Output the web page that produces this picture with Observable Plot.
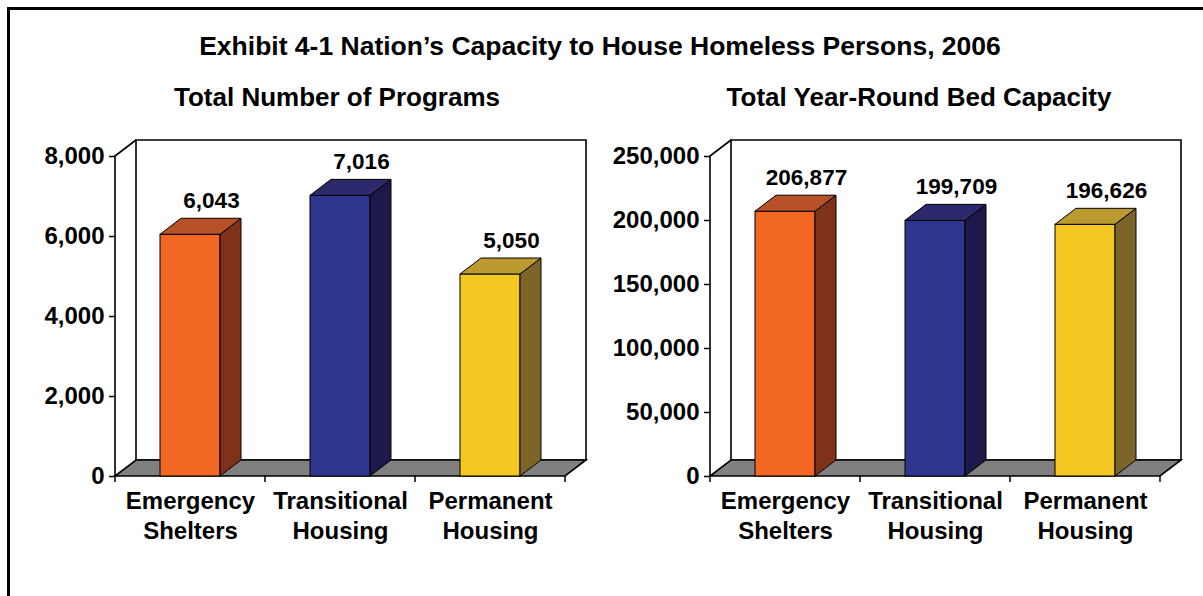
<!DOCTYPE html>
<html>
<head>
<meta charset="utf-8">
<script src="https://cdn.jsdelivr.net/npm/d3@7"></script>
<script src="https://cdn.jsdelivr.net/npm/@observablehq/plot@0.6"></script>
<style>
  html, body { margin: 0; padding: 0; background: #fff; }
  #wrap { position: relative; width: 1203px; height: 596px; overflow: hidden;
          font-family: "Liberation Sans", Arial, sans-serif; font-weight: bold; color: #000; }
  #frame { position: absolute; left: 7px; top: 7px; width: 1300px; height: 700px;
           border-top: 3px solid #000; border-left: 3px solid #000; }
  .t { position: absolute; white-space: nowrap; transform: translateX(-50%); }
  .chart { position: absolute; top: 120px; }
  .chart svg { overflow: visible; }
</style>
</head>
<body>
<div id="wrap">
  <div id="frame"></div>
  <div class="t" style="left:600px;top:32.5px;font-size:26.5px;line-height:26.5px">Exhibit 4-1 Nation’s Capacity to House Homeless Persons, 2006</div>
  <div class="t" style="left:337px;top:84px;font-size:26px;line-height:26px">Total Number of Programs</div>
  <div class="t" style="left:919px;top:84px;font-size:26px;line-height:26px">Total Year-Round Bed Capacity</div>
  <div class="chart" id="c1" style="left:0px"></div>
  <div class="chart" id="c2" style="left:595px"></div>
</div>
<script>
// ---- data ----
const categories = ["Emergency Shelters", "Transitional Housing", "Permanent Housing"];
const categoryLines = ["Emergency\nShelters", "Transitional\nHousing", "Permanent\nHousing"];
const programs = [6043, 7016, 5050];
const beds = [206877, 199709, 196626];
const programTicks = [0, 2000, 4000, 6000, 8000];
const bedTicks = [0, 50000, 100000, 150000, 200000, 250000];
const frontColors = ["#F26722", "#2E3690", "#F5C723"];
const topColors = ["#B85128", "#2C2A6C", "#BA9A31"];
const sideColors = ["#7E3219", "#1D1A4B", "#7D652A"];

// ---- drawing ----
const fmt = d3.format(",");
const DX = 21, DY = 16, INSET = 45;
const FONT = "Liberation Sans, Arial, sans-serif";
const pts = a => a.map(p => p.join(",")).join(" ");

function makeChart(values, ticks, width, marginRight) {
  const data = categories.map((cat, i) => ({cat, value: values[i], i}));
  const max = ticks[ticks.length - 1];

  const box = (index, scales, vals, dims) => {
    const {x, y} = scales;
    const [xl, xr] = x.range ? x.range() : [dims.marginLeft, dims.width - dims.marginRight];
    const yb = y(0), yt = y(max);
    const g = d3.create("svg:g").attr("stroke", "#000").attr("fill", "none");
    g.append("polygon")
      .attr("points", pts([[xl + DX, yt - DY], [xr + DX, yt - DY], [xr + DX, yb - DY], [xl + DX, yb - DY]]))
      .attr("fill", "#fff").attr("stroke-width", 1.6);
    g.append("path").attr("d", `M${xl},${yb}V${yt}L${xl + DX},${yt - DY}`).attr("stroke-width", 1.6);
    g.append("polygon")
      .attr("points", pts([[xl, yb], [xr, yb], [xr + DX, yb - DY], [xl + DX, yb - DY]]))
      .attr("fill", "#808080").attr("stroke-width", 1.6);
    const edges = [...x.domain().map(c => x(c)), xr];
    for (const e of edges) {
      g.append("line").attr("x1", e).attr("x2", e).attr("y1", yb).attr("y2", yb + 6).attr("stroke-width", 1.5);
    }
    return g.node();
  };

  const faces = (index, scales) => {
    const {x, y} = scales;
    const bw = x.bandwidth();
    const g = d3.create("svg:g").attr("stroke", "#000").attr("stroke-width", 1).attr("stroke-linejoin", "round");
    for (const d of data) {
      const x1 = x(d.cat) + INSET, x2 = x(d.cat) + bw - INSET;
      const yv = y(d.value), y0 = y(0);
      g.append("polygon").attr("fill", sideColors[d.i])
        .attr("points", pts([[x2, yv], [x2 + DX, yv - DY], [x2 + DX, y0 - DY], [x2, y0]]));
      g.append("polygon").attr("fill", topColors[d.i])
        .attr("points", pts([[x1, yv], [x1 + DX, yv - DY], [x2 + DX, yv - DY], [x2, yv]]));
    }
    return g.node();
  };

  return Plot.plot({
    width, height: 440,
    marginLeft: 115, marginRight, marginTop: 36, marginBottom: 84,
    x: {type: "band", domain: categories, padding: 0, round: false, label: null},
    y: {domain: [0, max], label: null},
    color: {domain: categories, range: frontColors},
    style: {fontFamily: FONT, background: "transparent", color: "#000", overflow: "visible"},
    marks: [
      box,
      Plot.barY(data, {x: "cat", y: "value", fill: "cat", stroke: "#000", strokeWidth: 1,
                       insetLeft: INSET, insetRight: INSET}),
      faces,
      Plot.axisY({ticks, label: null, tickSize: 6, tickPadding: 5, tickFormat: fmt, fontSize: 24,
                  fontWeight: "bold", strokeWidth: 1.5}),
      Plot.axisX({label: null, tickSize: 0, tickPadding: 10.6, fontSize: 24, fontWeight: "bold", lineHeight: 1.26,
                  tickFormat: c => categoryLines[categories.indexOf(c)]}),
      Plot.text(data, {x: "cat", y: "value", text: d => fmt(d.value), dx: DX, dy: -27,
                       lineAnchor: "bottom", fontSize: 22.5, fontWeight: "bold", fill: "#000"})
    ]
  });
}

document.getElementById("c1").append(makeChart(programs, programTicks, 600, 35));
document.getElementById("c2").append(makeChart(beds, bedTicks, 608, 43));
</script>
</body>
</html>
